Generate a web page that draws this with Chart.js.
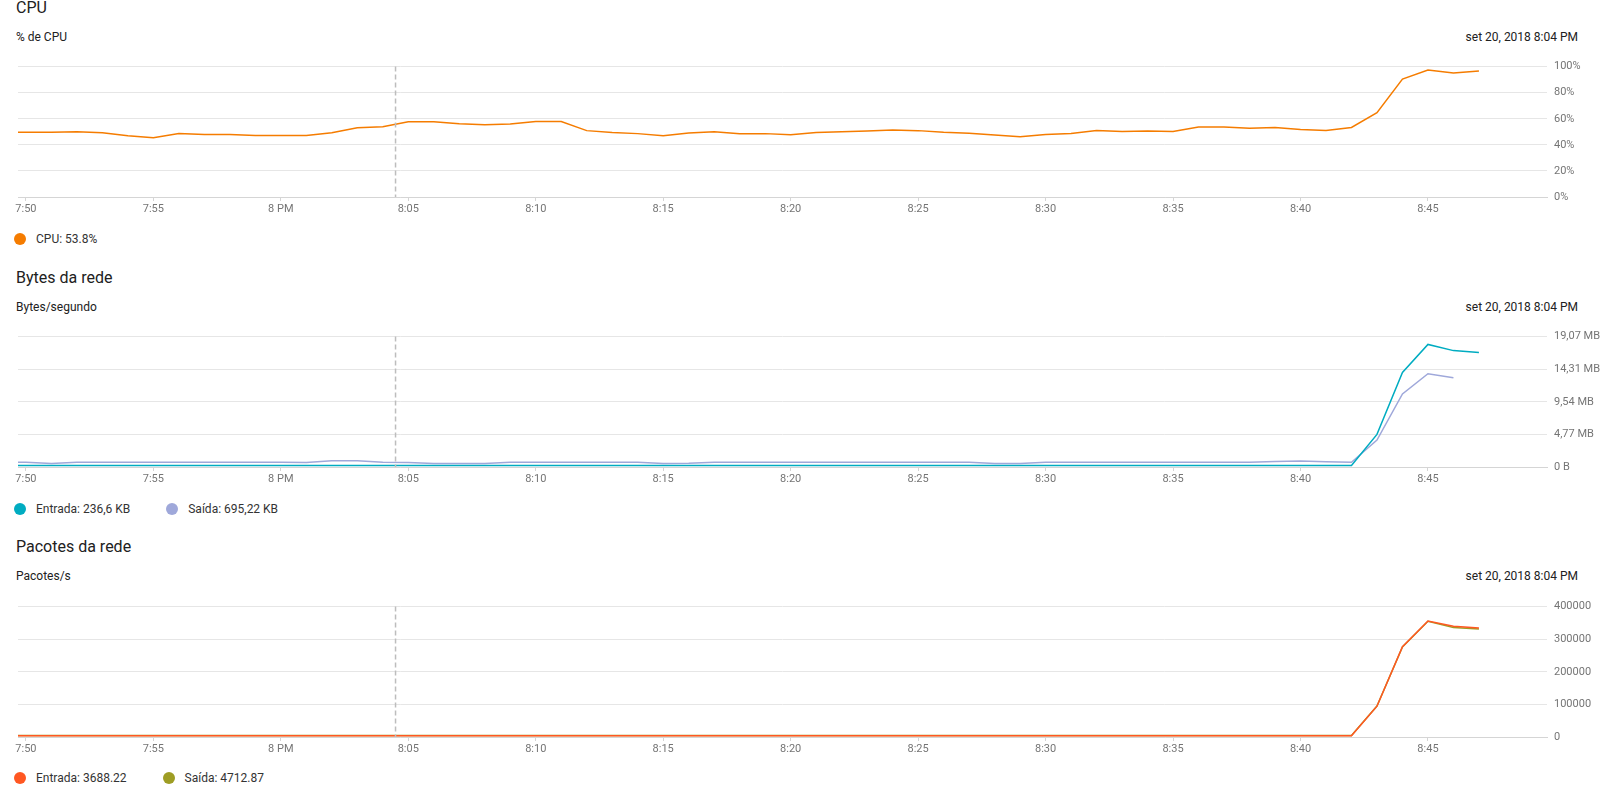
<!DOCTYPE html>
<html>
<head>
<meta charset="utf-8">
<script src="https://cdn.jsdelivr.net/npm/chart.js@4.4.0/dist/chart.umd.min.js"></script>
<style>
  body { margin:0; background:#fff; font-family: Roboto, 'Noto Sans', sans-serif; color:#212121;
         width:1619px; height:791px; overflow:hidden; position:relative; }
  .t { position:absolute; white-space:nowrap; line-height:1; }
  .title { font-size:16px; left:16px; }
  .sub { font-size:12px; left:16px; }
  .date { font-size:12px; right:41px; }
  .legend { position:absolute; left:14px; display:flex; font-size:12px; line-height:1; color:#333; }
  .item { display:flex; align-items:center; margin-right:36px; white-space:nowrap; }
  .dot { width:12px; height:12px; border-radius:50%; margin-right:10px; }
  canvas { position:absolute; left:0; }
</style>
</head>
<body>

<div class="t title" style="top:-0.5px">CPU</div>
<div class="t sub" style="top:30.6px">% de CPU</div>
<div class="t date" style="top:30.6px">set 20, 2018 8:04 PM</div>
<canvas id="cpuChart" width="1619" height="175" style="top:52px"></canvas>
<div class="legend" style="top:232.6px">
  <div class="item"><span class="dot" style="background:#F57C00"></span>CPU: 53.8%</div>
</div>

<div class="t title" style="top:269.5px">Bytes da rede</div>
<div class="t sub" style="top:300.6px">Bytes/segundo</div>
<div class="t date" style="top:300.6px">set 20, 2018 8:04 PM</div>
<canvas id="bytesChart" width="1619" height="175" style="top:322px"></canvas>
<div class="legend" style="top:502.6px">
  <div class="item"><span class="dot" style="background:#00ACC1"></span>Entrada: 236,6 KB</div>
  <div class="item"><span class="dot" style="background:#9FA8DA"></span>Saída: 695,22 KB</div>
</div>

<div class="t title" style="top:539.2px">Pacotes da rede</div>
<div class="t sub" style="top:570.3px">Pacotes/s</div>
<div class="t date" style="top:570.3px">set 20, 2018 8:04 PM</div>
<canvas id="pktChart" width="1619" height="175" style="top:592px"></canvas>
<div class="legend" style="top:772.3px">
  <div class="item"><span class="dot" style="background:#FF5722"></span>Entrada: 3688.22</div>
  <div class="item"><span class="dot" style="background:#9E9D24"></span>Saída: 4712.87</div>
</div>

<script>
  // minutos depois de 7:50 PM (um ponto por minuto)
  var minutes = [-1, 0, 1, 2, 3, 4, 5, 6, 7, 8, 9,
    10, 11, 12, 13, 14, 15, 16, 17, 18, 19,
    20, 21, 22, 23, 24, 25, 26, 27, 28, 29,
    30, 31, 32, 33, 34, 35, 36, 37, 38, 39,
    40, 41, 42, 43, 44, 45, 46, 47, 48, 49,
    50, 51, 52, 53, 54, 55, 56, 57];

  var xTickMinutes = [0, 5, 10, 15, 20, 25, 30, 35, 40, 45, 50, 55];
  var xTickLabels = ['7:50', '7:55', '8 PM', '8:05', '8:10', '8:15', '8:20', '8:25', '8:30', '8:35', '8:40', '8:45'];
  var hoverMinute = 14.5; // linha tracejada (8:04)

  // % de CPU
  var cpuPct = [49.8,
    49.6, 49.6, 50.0, 49.2, 46.9, 45.4, 48.7, 48.0, 48.0, 47.2,
    47.2, 47.2, 49.2, 53.1, 53.8, 57.7, 57.7, 56.2, 55.4, 56.0,
    57.9, 57.9, 50.9, 49.4, 48.6, 47.0, 49.1, 50.1, 48.6, 48.6,
    47.8, 49.4, 50.1, 50.6, 51.4, 50.9, 49.6, 48.8, 47.5, 46.3,
    47.9, 48.7, 51.0, 50.2, 50.7, 50.2, 53.6, 53.6, 52.8, 53.3,
    51.8, 51.0, 53.3, 64.6, 90.4, 97.4, 95.1, 96.6];
  var cpuTicks = [0, 20, 40, 60, 80, 100];
  var cpuTickLabels = ['0%', '20%', '40%', '60%', '80%', '100%'];

  // bytes/segundo, em milhoes de bytes
  var bytesIn = [0.24,
    0.24, 0.24, 0.24, 0.24, 0.24, 0.24, 0.24, 0.24, 0.24, 0.24,
    0.24, 0.24, 0.24, 0.24, 0.24, 0.24, 0.24, 0.24, 0.24, 0.24,
    0.24, 0.24, 0.24, 0.24, 0.24, 0.24, 0.24, 0.24, 0.24, 0.24,
    0.24, 0.24, 0.24, 0.24, 0.24, 0.24, 0.24, 0.24, 0.24, 0.24,
    0.24, 0.24, 0.24, 0.24, 0.24, 0.24, 0.24, 0.24, 0.24, 0.24,
    0.24, 0.24, 0.24, 5.0, 14.5, 18.8, 17.85, 17.55];
  var bytesOut = [0.74,
    0.72, 0.53, 0.72, 0.73, 0.72, 0.72, 0.73, 0.72, 0.72, 0.72,
    0.72, 0.70, 0.97, 0.96, 0.71, 0.70, 0.54, 0.53, 0.54, 0.72,
    0.73, 0.72, 0.72, 0.72, 0.71, 0.54, 0.56, 0.72, 0.72, 0.73,
    0.72, 0.72, 0.72, 0.72, 0.72, 0.72, 0.72, 0.71, 0.54, 0.55,
    0.72, 0.72, 0.72, 0.72, 0.72, 0.72, 0.72, 0.72, 0.73, 0.85,
    0.93, 0.82, 0.72, 4.12, 11.2, 14.3, 13.7, null];
  var bytesTicks = [0, 5, 10, 15, 20];
  var bytesTickLabels = ['0 B', '4,77 MB', '9,54 MB', '14,31 MB', '19,07 MB'];

  // pacotes/s
  var pktsIn = [3700,
    3690, 3700, 3710, 3690, 3700, 3700, 3690, 3700, 3710, 3700,
    3690, 3700, 3700, 3690, 3688, 3700, 3710, 3700, 3690, 3700,
    3700, 3690, 3700, 3710, 3700, 3690, 3700, 3700, 3690, 3700,
    3710, 3700, 3690, 3700, 3700, 3690, 3700, 3710, 3700, 3690,
    3700, 3700, 3690, 3700, 3710, 3700, 3690, 3700, 3700, 3690,
    3700, 3710, 3700, 94500, 277000, 356000, 340000, 334000];
  var pktsOut = [4710,
    4700, 4720, 4710, 4700, 4710, 4720, 4700, 4710, 4700, 4720,
    4710, 4700, 4710, 4720, 4713, 4700, 4710, 4720, 4700, 4710,
    4700, 4720, 4710, 4700, 4710, 4720, 4700, 4710, 4700, 4720,
    4710, 4700, 4710, 4720, 4700, 4710, 4700, 4720, 4710, 4700,
    4710, 4720, 4700, 4710, 4700, 4720, 4710, 4700, 4710, 4720,
    4700, 4710, 4700, 95000, 276000, 355000, 336000, 331000];
  var pktTicks = [0, 100000, 200000, 300000, 400000];
  var pktTickLabels = ['0', '100000', '200000', '300000', '400000'];

  Chart.defaults.font.family = 'Roboto';
  Chart.defaults.animation = false;

  var crosshair = {
    id: 'crosshair',
    afterDatasetsDraw: function(chart) {
      var x = chart.scales.x.getPixelForValue(hoverMinute);
      var area = chart.chartArea;
      var ctx = chart.ctx;
      ctx.save();
      ctx.strokeStyle = '#bdbdbd';
      ctx.lineWidth = 1.5;
      ctx.setLineDash([5, 3]);
      ctx.beginPath();
      ctx.moveTo(x, area.top);
      ctx.lineTo(x, area.bottom);
      ctx.stroke();
      ctx.restore();
    }
  };

  function points(values) {
    return minutes.map(function(m, i) { return { x: m, y: values[i] }; });
  }

  function line(values, color) {
    return {
      data: points(values),
      borderColor: color,
      borderWidth: 1.5,
      pointRadius: 0,
      tension: 0,
      fill: false
    };
  }

  // coloca a area do grafico exatamente em plotTop, com 130px de altura
  function place(chart, plotTop) {
    var a = chart.chartArea;
    var h = a.bottom - a.top;
    if (Math.abs(h - 130) > 0.5) {
      chart.resize(1619, Math.round(chart.height + 130 - h));
      a = chart.chartArea;
    }
    chart.canvas.style.top = (plotTop - a.top) + 'px';
  }

  function makeChart(id, datasets, yMax, yTicks, yLabels) {
    var ctx = document.getElementById(id).getContext('2d');
    return new Chart(ctx, {
      type: 'line',
      data: { datasets: datasets },
      plugins: [crosshair],
      options: {
        responsive: false,
        maintainAspectRatio: false,
        layout: { padding: { top: 10, left: 18, right: 0, bottom: 0 } },
        plugins: { legend: { display: false }, tooltip: { enabled: false } },
        scales: {
          x: {
            type: 'linear',
            min: -0.31,
            max: 59.67,
            afterBuildTicks: function(s) { s.ticks = xTickMinutes.map(function(v) { return { value: v }; }); },
            afterFit: function(s) { s.height = 30; },
            ticks: {
              callback: function(v) { return xTickLabels[xTickMinutes.indexOf(v)]; },
              font: { size: 11 },
              color: '#757575',
              padding: 2,
              maxRotation: 0,
              autoSkip: false
            },
            grid: { drawOnChartArea: false, drawTicks: true, tickLength: 4, color: '#d5d5d5' },
            border: { color: '#d5d5d5' }
          },
          y: {
            position: 'right',
            min: 0,
            max: yMax,
            afterBuildTicks: function(s) { s.ticks = yTicks.map(function(v) { return { value: v }; }); },
            afterFit: function(s) { s.width = 72; },
            ticks: {
              callback: function(v) { return yLabels[yTicks.indexOf(v)]; },
              font: { size: 11 },
              color: '#757575',
              padding: 7
            },
            grid: { color: '#e6e6e6', drawTicks: false },
            border: { display: false }
          }
        }
      }
    });
  }

  var cpuChart = makeChart('cpuChart', [line(cpuPct, '#F57C00')], 100, cpuTicks, cpuTickLabels);
  var bytesChart = makeChart('bytesChart', [line(bytesIn, '#00ACC1'), line(bytesOut, '#9FA8DA')], 20, bytesTicks, bytesTickLabels);
  var pktChart = makeChart('pktChart', [line(pktsIn, '#FF5722'), line(pktsOut, '#9E9D24')], 400000, pktTicks, pktTickLabels);

  place(cpuChart, 66.7);
  place(bytesChart, 337);
  place(pktChart, 606.7);
</script>
</body>
</html>
